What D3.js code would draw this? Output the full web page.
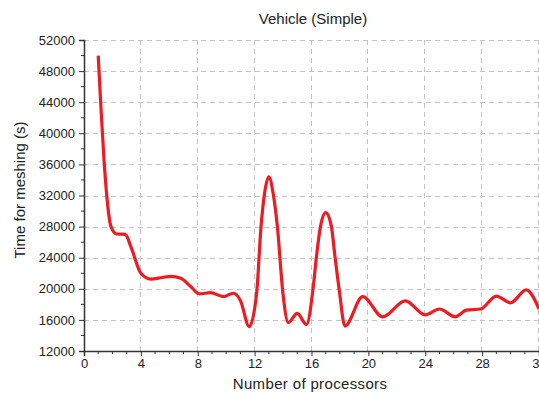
<!DOCTYPE html>
<html lang="en">
<head>
<meta charset="UTF-8"/>
<title>Vehicle (Simple)</title>
<script src="https://d3js.org/d3.v7.min.js"></script>
<style>
	body { margin: 0; background: #fff; }
	text { font-family: "Liberation Sans", Arial, sans-serif; fill: #222; }
</style>
</head>
<body>
<script>
	// values
	var procs = [1, 1.2, 1.4, 1.6, 1.9, 2.3, 2.9, 3.3, 4.0, 4.7, 5.5, 6.1, 6.8, 7.5, 8.1, 8.9, 9.8, 10.5, 11.0, 11.62, 12.14, 12.45, 12.7, 13.0, 13.3, 13.6, 13.99, 14.37, 15.0, 15.65, 16.1, 16.35, 16.63, 17.0, 17.4, 17.65, 17.95, 18.35, 19.6, 21.0, 22.6, 24.0, 25.0, 26.1, 26.9, 27.9, 29.0, 30.0, 31.1, 32.0];
	var times = [50000, 43000, 36800, 32000, 28000, 27050, 27000, 25400, 22000, 21250, 21450, 21600, 21350, 20300, 19350, 19500, 19000, 19430, 18500, 15130, 19430, 28000, 32300, 34400, 32300, 28000, 19430, 15650, 16850, 15400, 19850, 24150, 28000, 29800, 28000, 24150, 19850, 15200, 19000, 16400, 18450, 16650, 17400, 16400, 17250, 17400, 19070, 18200, 19850, 17400];
	var xTicks = [0, 4, 8, 12, 16, 20, 24, 28, 32];
	var yTicks = [12000, 16000, 20000, 24000, 28000, 32000, 36000, 40000, 44000, 48000, 52000];

	var w = 539, h = 393;
	var padLeft = 84, padTop = 40, padBottom = 351, padRight = 539;

	var dataset = procs.map(function(p, i) { return [p, times[i]]; });

	var xScale = d3.scaleLinear().domain([0, 32]).range([padLeft, padRight]);
	var yScale = d3.scaleLinear().domain([12000, 52000]).range([padBottom, padTop]);

	var svg = d3.select("body").append("svg").attr("width", w).attr("height", h);

	// grid
	svg.append("g").selectAll("line").data(xTicks.slice(1)).enter().append("line")
		.attr("x1", function(d) { return Math.round(xScale(d)) - 0.5; })
		.attr("x2", function(d) { return Math.round(xScale(d)) - 0.5; })
		.attr("y1", padTop).attr("y2", padBottom)
		.attr("stroke", "#c4c4c4").attr("stroke-dasharray", "5,4");
	svg.append("g").selectAll("line").data(yTicks.slice(1)).enter().append("line")
		.attr("x1", padLeft).attr("x2", padRight)
		.attr("y1", function(d) { return Math.round(yScale(d)) + 0.5; })
		.attr("y2", function(d) { return Math.round(yScale(d)) + 0.5; })
		.attr("stroke", "#c4c4c4").attr("stroke-dasharray", "5,4");

	// minor ticks
	var xMinor = d3.range(1, 33).filter(function(d) { return d % 4 !== 0; });
	var yMinor = d3.range(14000, 52000, 4000);

	var xAxis = svg.append("g").attr("transform", "translate(0," + padBottom + ")")
		.call(d3.axisBottom(xScale).tickValues(xTicks).tickSize(5).tickPadding(3));
	xAxis.selectAll(".minor").data(xMinor).enter().append("line").attr("class", "minor")
		.attr("x1", function(d) { return xScale(d); }).attr("x2", function(d) { return xScale(d); })
		.attr("y1", 0).attr("y2", 3).attr("stroke", "#333");

	var yAxis = svg.append("g").attr("transform", "translate(" + padLeft + ",0)")
		.call(d3.axisLeft(yScale).tickValues(yTicks).tickSize(5).tickPadding(4).tickFormat(d3.format("d")));
	yAxis.selectAll(".minor").data(yMinor).enter().append("line").attr("class", "minor")
		.attr("y1", function(d) { return yScale(d); }).attr("y2", function(d) { return yScale(d); })
		.attr("x1", 0).attr("x2", -3).attr("stroke", "#333");

	svg.selectAll(".domain").attr("stroke", "#333").attr("stroke-width", 1.5);
	svg.selectAll(".tick line").attr("stroke", "#333");
	svg.selectAll(".tick text").attr("font-size", "13px").attr("fill", "#222")
		.attr("font-family", "Liberation Sans, Arial, sans-serif");

	// curve
	var line = d3.line()
		.x(function(d) { return xScale(d[0]); })
		.y(function(d) { return yScale(d[1]); })
		.curve(d3.curveMonotoneX);

	svg.append("path").datum(dataset)
		.attr("d", line)
		.attr("fill", "none")
		.attr("stroke", "#ec1c24")
		.attr("stroke-width", 3.2)
		.attr("stroke-linejoin", "round");

	// labels
	svg.append("text").text("Vehicle (Simple)")
		.attr("x", 313).attr("y", 24).attr("text-anchor", "middle").attr("font-size", "15px");
	svg.append("text").text("Number of processors")
		.attr("x", 310).attr("y", 389).attr("text-anchor", "middle").attr("font-size", "15px")
		.attr("letter-spacing", "0.35px");
	svg.append("text").text("Time for meshing (s)")
		.attr("transform", "translate(25,190) rotate(-90)")
		.attr("text-anchor", "middle").attr("font-size", "15px");
</script>
</body>
</html>
